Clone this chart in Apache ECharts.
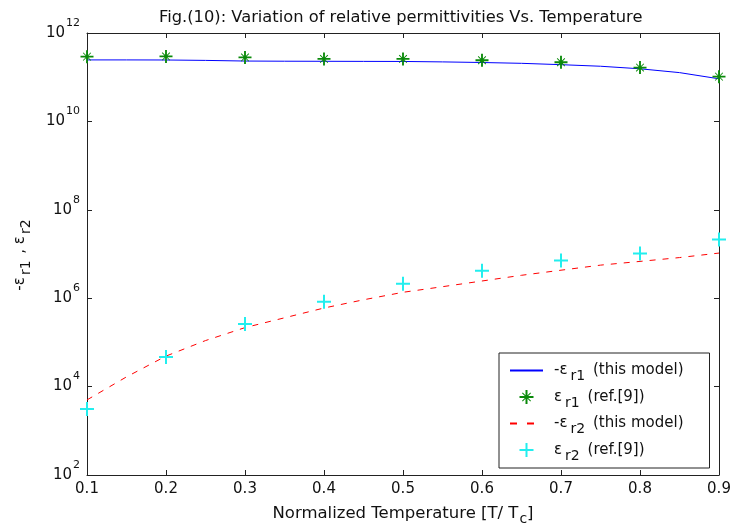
<!DOCTYPE html>
<html>
<head>
<meta charset="utf-8">
<script src="https://cdn.jsdelivr.net/npm/echarts@6/dist/echarts.min.js"></script>
<style>
  html, body { margin: 0; padding: 0; background: #fff; }
  #main { width: 734px; height: 531px; }
</style>
</head>
<body>
<div id="main"></div>
<script>
// model curves (this model)
var modelT = [0.1, 0.15, 0.2, 0.25, 0.3, 0.35, 0.4, 0.45, 0.5, 0.55, 0.6, 0.65, 0.7, 0.75, 0.8, 0.85, 0.9];
var er1Model = [2.46e11, 2.46e11, 2.45e11, 2.40e11, 2.32e11, 2.30e11, 2.29e11, 2.28e11, 2.27e11,
                2.22e11, 2.15e11, 2.06e11, 1.92e11, 1.77e11, 1.55e11, 1.27e11, 9.2e10];
var er2Model = [5.0e3, 1.66e4, 4.9e4, 1.1e5, 2.16e5, 3.6e5, 6.0e5, 9.2e5, 1.36e6,
                1.82e6, 2.45e6, 3.3e6, 4.3e6, 5.6e6, 6.8e6, 8.3e6, 1.05e7];

// reference points (ref.[9])
var refT = [0.1, 0.2, 0.3, 0.4, 0.5, 0.6, 0.7, 0.8, 0.9];
var er1Ref = [2.92e11, 2.95e11, 2.8e11, 2.59e11, 2.59e11, 2.42e11, 2.18e11, 1.65e11, 1.03e11];
var er2Ref = [3.1e3, 4.7e4, 2.6e5, 8.3e5, 2.12e6, 4.18e6, 7.1e6, 1.03e7, 2.12e7];

var legendNames = ['-ε{s|r1} (this model)', 'ε{s|r1} (ref.[9])', '-ε{s|r2} (this model)', 'ε{s|r2} (ref.[9])'];

function pairs(xs, ys) {
  return xs.map(function(x, i) { return [x, ys[i]]; });
}

var font = 'DejaVu Sans, Verdana, sans-serif';
var axisColor = '#222';
var textColor = '#111';

// marker shapes
var plusPath = 'path://M6,0h2v6h6v2h-6v6h-2v-6h-6v-2h6z';
var starPath = 'path://M6,0h2v6h6v2h-6v6h-2v-6h-6v-2h6z M2.5,3.2l0.7,-0.7l8.3,8.3l-0.7,0.7z M10.8,2.5l0.7,0.7l-8.3,8.3l-0.7,-0.7z';

var chart = echarts.init(document.getElementById('main'));

var option = {
  animation: false,
  backgroundColor: '#fff',
  textStyle: { fontFamily: font },
  title: {
    text: 'Fig.(10): Variation of relative permittivities Vs. Temperature',
    left: 154,
    top: 5,
    textStyle: { fontFamily: font, fontSize: 16.3, fontWeight: 'normal', color: textColor }
  },
  grid: { left: 87, right: 15, top: 33, bottom: 55 },
  legend: {
    orient: 'vertical',
    left: 499,
    top: 353,
    padding: [10, 26, 5, 10],
    itemGap: 6,
    itemWidth: 33,
    itemHeight: 14,
    borderColor: '#222',
    borderWidth: 1,
    backgroundColor: '#fff',
    data: [
      { name: legendNames[0], itemStyle: { opacity: 0 } },
      { name: legendNames[1] },
      { name: legendNames[2], itemStyle: { opacity: 0 }, lineStyle: { type: [7, 10] } },
      { name: legendNames[3] }
    ],
    textStyle: {
      fontFamily: font,
      fontSize: 15,
      color: textColor,
      padding: [0, 0, 0, 6],
      rich: {
        s: { fontSize: 14, fontFamily: font, color: textColor, padding: [12, 3, 0, 3] }
      }
    }
  },
  xAxis: [
    {
      type: 'value',
      min: 0.1,
      max: 0.9,
      interval: 0.1,
      name: 'Normalized Temperature [T/ T{s|c}]',
      nameLocation: 'middle',
      nameGap: 27,
      nameTextStyle: {
        fontFamily: font, fontSize: 16.5, color: textColor,
        rich: { s: { fontSize: 14, fontFamily: font, color: textColor, padding: [10, 0, 0, 1] } }
      },
      axisLine: { onZero: false, lineStyle: { color: axisColor, width: 1 } },
      axisTick: { inside: true, length: 5, lineStyle: { color: axisColor } },
      axisLabel: {
        margin: 7, fontSize: 15, color: textColor, fontFamily: font,
        formatter: function(v) { return v.toFixed(1); }
      },
      splitLine: { show: false }
    },
    {
      type: 'value',
      position: 'top',
      min: 0.1,
      max: 0.9,
      interval: 0.1,
      axisLine: { onZero: false, lineStyle: { color: axisColor, width: 1 } },
      axisTick: { inside: true, length: 5, lineStyle: { color: axisColor } },
      axisLabel: { show: false },
      splitLine: { show: false }
    }
  ],
  yAxis: [
    {
      type: 'log',
      logBase: 10,
      min: 1e2,
      max: 1e12,
      interval: 2,
      name: '-ε{s|r1} , ε{s|r2}',
      nameLocation: 'middle',
      nameRotate: 90,
      nameGap: 54,
      nameTextStyle: {
        fontFamily: font, fontSize: 15, color: textColor,
        rich: { s: { fontSize: 14, fontFamily: font, color: textColor, padding: [12, 2, 0, 2] } }
      },
      axisLine: { onZero: false, lineStyle: { color: axisColor, width: 1 } },
      axisTick: { inside: true, length: 5, lineStyle: { color: axisColor } },
      axisLabel: {
        margin: 7,
        color: textColor,
        formatter: function(v) {
          var e = Math.round(Math.log(v) / Math.LN10);
          return '{b|10}{p|' + e + '}';
        },
        rich: {
          b: { fontSize: 15, fontFamily: font, color: textColor },
          p: { fontSize: 11, fontFamily: font, color: textColor, padding: [0, 0, 20, 1] }
        }
      },
      splitLine: { show: false }
    },
    {
      type: 'log',
      logBase: 10,
      position: 'right',
      min: 1e2,
      max: 1e12,
      interval: 2,
      axisLine: { onZero: false, lineStyle: { color: axisColor, width: 1 } },
      axisTick: { inside: true, length: 5, lineStyle: { color: axisColor } },
      axisLabel: { show: false },
      splitLine: { show: false }
    }
  ],
  series: [
    {
      name: legendNames[0],
      type: 'line',
      symbol: 'none',
      lineStyle: { color: '#0000ff', width: 1 },
      itemStyle: { color: '#0000ff' },
      data: pairs(modelT, er1Model),
      z: 2
    },
    {
      name: legendNames[1],
      type: 'scatter',
      symbol: starPath,
      symbolSize: 13,
      itemStyle: { color: '#0a8a0a', opacity: 1 },
      data: pairs(refT, er1Ref),
      z: 3
    },
    {
      name: legendNames[2],
      type: 'line',
      symbol: 'none',
      lineStyle: { color: '#ff0000', width: 1, type: [6, 7] },
      itemStyle: { color: '#ff4444' },
      data: pairs(modelT, er2Model),
      z: 2
    },
    {
      name: legendNames[3],
      type: 'scatter',
      symbol: plusPath,
      symbolSize: 14,
      itemStyle: { color: '#22eeee', opacity: 1 },
      data: pairs(refT, er2Ref),
      z: 3
    }
  ]
};

chart.setOption(option);
</script>
</body>
</html>
